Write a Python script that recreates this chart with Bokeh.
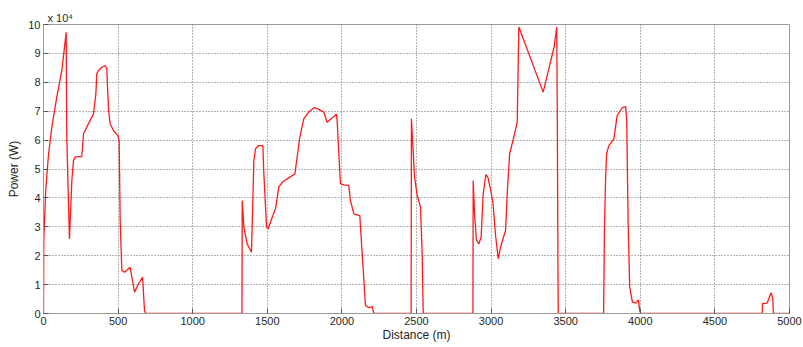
from bokeh.plotting import figure
from bokeh.models import Range1d, FixedTicker
from bokeh.embed import file_html
from bokeh.resources import INLINE

# Distance along route (m)
distance_m = [
    0, 2, 16, 34, 56, 89, 123, 152, 156, 174,
    190, 201, 212, 235, 257, 268, 290, 335, 351, 357,
    369, 391, 413, 424, 436, 447, 469, 498, 507, 514,
    525, 543, 581, 610, 637, 664, 677, 686,
    1330, 1332, 1343, 1365, 1394, 1410, 1421, 1443, 1470, 1477,
    1495, 1506, 1533, 1555, 1577, 1600, 1633, 1685, 1700, 1718,
    1745, 1778, 1812, 1838, 1879, 1901, 1935, 1964, 1968, 1990,
    2013, 2046, 2057, 2080, 2120, 2136, 2158, 2181, 2203, 2214,
    2464, 2466, 2476, 2487, 2505, 2527, 2538, 2545,
    2878, 2880, 2889, 2902, 2918, 2933, 2947, 2965, 2978, 2996,
    3012, 3030, 3048, 3063, 3097, 3108, 3124, 3152, 3175, 3186,
    3349, 3422, 3440, 3444, 3448, 3450,
    3754, 3760, 3767, 3774, 3789, 3823, 3834, 3845, 3879, 3902,
    3909, 3918, 3929, 3947, 3969, 3987, 3996, 4003,
    4817, 4819, 4850, 4877, 4888, 4892, 5000,
]

# Power (W)
power_w = [
    0, 26000, 43700, 55200, 64500, 74900, 84100, 97300, 61000, 25800,
    46000, 52900, 54100, 54300, 54300, 62200, 64500, 69100, 76000, 82900,
    84100, 85200, 85800, 84700, 70200, 65600, 63300, 61600, 59900, 32200,
    14900, 14300, 16000, 7400, 10300, 12600, 1000, 0,
    0, 39100, 29900, 24100, 21200, 52900, 57000, 58100, 58100, 48300,
    29900, 29300, 33300, 36200, 43700, 45400, 46600, 48300, 54100, 61000,
    67400, 69700, 71200, 70800, 69700, 66200, 67700, 68900, 66800, 44900,
    44500, 44300, 39100, 34500, 33900, 20600, 2800, 2000, 2400, 0,
    0, 67400, 57600, 47200, 40800, 36800, 20600, 0,
    0, 46000, 34500, 25300, 24100, 26400, 41400, 48100, 47200, 43000,
    38500, 27000, 18900, 23000, 28700, 41400, 55200, 61000, 66200, 99100,
    76600, 92200, 99100, 64500, 17200, 0,
    0, 30000, 46000, 55200, 58100, 60400, 64500, 68500, 71200, 71600,
    66800, 32200, 9100, 3900, 3600, 4700, 1000, 0,
    0, 3400, 3600, 7200, 5100, 0, 0,
]

x_ticks = [0, 500, 1000, 1500, 2000, 2500, 3000, 3500, 4000, 4500, 5000]
y_ticks = [0, 10000, 20000, 30000, 40000, 50000, 60000, 70000, 80000, 90000, 100000]
y_tick_labels = ["0", "1", "2", "3", "4", "5", "6", "7", "8", "9", "10"]
exponent_text = "x 10\u2074"

FONT = "Liberation Sans"
TXT = "#262626"
FRAME = "#9a9a9a"

p = figure(width=803, height=347, output_backend="svg", toolbar_location=None,
           x_range=Range1d(0, 5000), y_range=Range1d(0, 100000),
           min_border_left=43, min_border_right=14, min_border_top=24, min_border_bottom=34)

p.line(distance_m, power_w, line_color="#ff1a1a", line_width=1.3)

p.outline_line_color = FRAME
p.outline_line_width = 1
p.background_fill_color = "white"
p.border_fill_color = "white"

p.title.text = exponent_text
p.title.align = "left"
p.title.offset = 4
p.title.standoff = 2
p.title.text_font = FONT
p.title.text_font_size = "11px"
p.title.text_font_style = "normal"
p.title.text_color = TXT

p.xaxis.ticker = FixedTicker(ticks=x_ticks)
p.yaxis.ticker = FixedTicker(ticks=y_ticks)
p.yaxis.major_label_overrides = {t: l for t, l in zip(y_ticks, y_tick_labels)}
p.xaxis.axis_label = "Distance (m)"
p.yaxis.axis_label = "Power (W)"

for ax in (p.xaxis[0], p.yaxis[0]):
    ax.axis_line_color = FRAME
    ax.major_tick_line_color = "#555555"
    ax.major_tick_in = 5
    ax.major_tick_out = 0
    ax.minor_tick_line_color = None
    ax.major_label_text_font = FONT
    ax.major_label_text_font_size = "11px"
    ax.major_label_text_color = TXT
    ax.axis_label_text_font = FONT
    ax.axis_label_text_font_size = "12px"
    ax.axis_label_text_font_style = "normal"
    ax.axis_label_text_color = TXT

p.yaxis.major_label_standoff = 3
p.yaxis.axis_label_standoff = 4
p.xaxis.major_label_standoff = 3
p.xaxis.axis_label_standoff = 0

p.xgrid.ticker = FixedTicker(ticks=x_ticks)
p.ygrid.ticker = FixedTicker(ticks=y_ticks)
p.grid.grid_line_color = "#5a5a5a"
p.grid.grid_line_dash = "1 2"
p.grid.grid_line_width = 1
p.grid.grid_line_alpha = 0.9

open("out.html", "w").write(file_html(p, INLINE))
